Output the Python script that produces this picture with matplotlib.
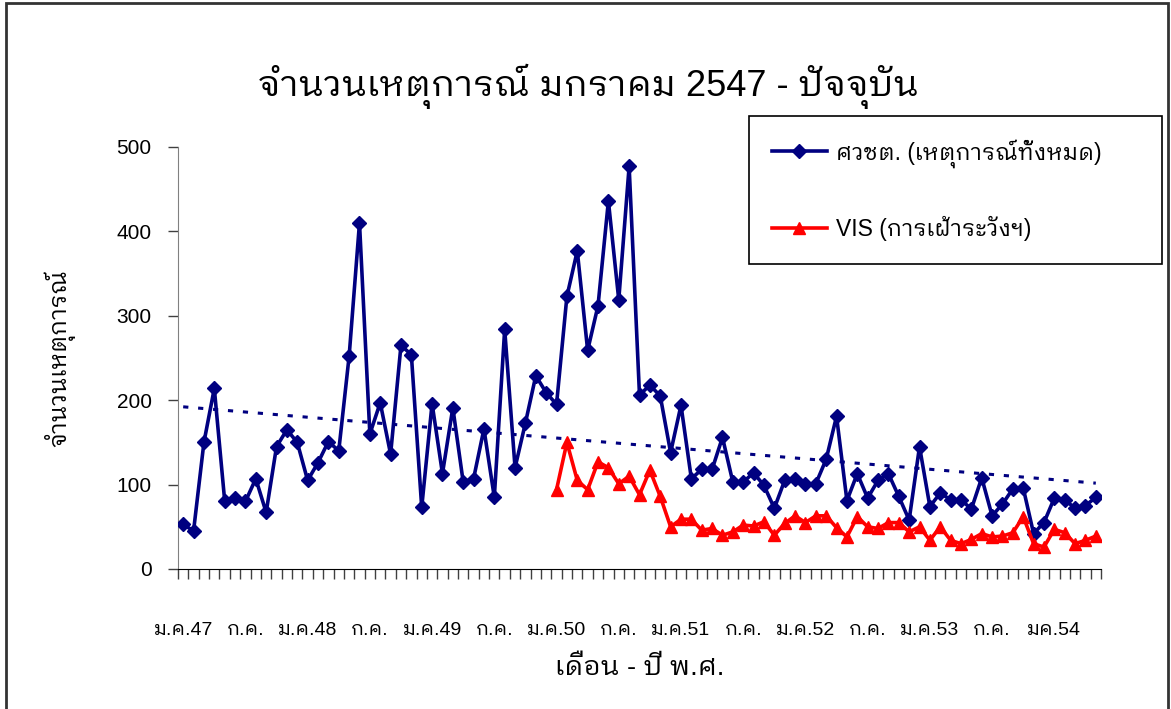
import numpy as np
import matplotlib
matplotlib.use("Agg")
import matplotlib.pyplot as plt
from matplotlib import font_manager, ft2font
from matplotlib.patches import Rectangle

# monthly counts, ม.ค.47 - พ.ค.54
total_events = [53, 45, 150, 214, 81, 84, 80, 107, 67, 145, 165, 150,
                105, 126, 151, 140, 252, 410, 160, 197, 136, 265, 254, 73,
                196, 113, 191, 103, 107, 166, 85, 284, 120, 173, 229, 209,
                195, 323, 377, 259, 312, 436, 319, 477, 206, 218, 205, 138,
                194, 107, 118, 118, 156, 103, 103, 114, 99, 72, 105, 107,
                101, 101, 130, 181, 81, 113, 84, 105, 113, 86, 58, 145,
                74, 90, 82, 82, 71, 108, 63, 77, 95, 96, 42, 55,
                84, 82, 72, 75, 85]
# VIS starts ม.ค.50
vis_events = [94, 150, 105, 94, 127, 120, 101, 110, 88, 117, 86, 50,
              59, 59, 46, 48, 40, 44, 52, 51, 56, 40, 54, 63,
              55, 63, 63, 49, 38, 62, 50, 48, 55, 55, 44, 50,
              34, 50, 34, 30, 35, 42, 38, 39, 43, 62, 30, 26,
              47, 43, 30, 34, 39]
tick_labels = ["ม.ค.47", "ก.ค.", "ม.ค.48", "ก.ค.", "ม.ค.49", "ก.ค.", "ม.ค.50",
               "ก.ค.", "ม.ค.51", "ก.ค.", "ม.ค.52", "ก.ค.", "ม.ค.53", "ก.ค.", "มค.54"]
label_step = 6
y_ticks = [0, 100, 200, 300, 400, 500]

series_names = ["ศวชต. (เหตุการณ์ทั้งหมด)", "VIS (การเฝ้าระวังฯ)"]
title = "จำนวนเหตุการณ์ มกราคม 2547 - ปัจจุบัน"


def find_thai_font():
    """หา font ที่มีตัวอักษรไทย"""
    found = []
    for f in font_manager.fontManager.ttflist:
        try:
            ft = ft2font.FT2Font(f.fname)
            if ft.get_char_index(0x0E01):
                found.append(f.name)
        except Exception:
            pass
    for key in ("Looped", "Thai", ""):
        for name in found:
            if key in name:
                return name
    return None


thai = find_thai_font()
plt.rcParams["font.family"] = ["Liberation Sans"] + ([thai] if thai else []) + ["DejaVu Sans"]

navy = "#000080"
red = "#FF0000"

x = np.arange(len(total_events))
x_vis = x[len(total_events) - len(vis_events):]
slope, icpt = np.polyfit(x, total_events, 1)  # linear trendline

fig = plt.figure(figsize=(11.71, 7.09), dpi=100)
ax = fig.add_axes([178 / 1171, 1 - 569 / 709, 923 / 1171, 422 / 709])

ax.plot(x, total_events, color=navy, lw=2.6, marker="D", ms=7,
        label=series_names[0], zorder=3)
ax.plot(x_vis, vis_events, color=red, lw=2.6, marker="^", ms=8,
        label=series_names[1], zorder=4)
ax.plot(x, slope * x + icpt, color=navy, lw=2.2, ls=(0, (1.7, 3.2)), zorder=2)

ax.set_xlim(-0.5, len(total_events) - 0.5)
ax.set_ylim(0, 500)
ax.set_yticks(y_ticks)
ax.set_xticks(x[::label_step], tick_labels)
ax.set_xticks(np.arange(-0.5, len(total_events), 1), minor=True)
ax.tick_params(axis="x", which="major", length=0, pad=38, labelsize=14)
ax.tick_params(axis="x", which="minor", length=7, width=1, color="#404040")
ax.tick_params(axis="y", length=7, width=1, color="#404040", pad=12, labelsize=15)

for s in ("top", "right"):
    ax.spines[s].set_visible(False)
ax.spines["left"].set_color("#808080")
ax.spines["bottom"].set_color("#000000")

ax.set_ylabel("จำนวนเหตุการณ์", fontsize=17, labelpad=30)
ax.set_xlabel("เดือน - ปี พ.ศ.", fontsize=19.5, labelpad=12)

fig.text(588 / 1171, 1 - 96 / 709, title, ha="center", va="baseline", fontsize=26)

leg = fig.legend(loc="upper left", bbox_to_anchor=(749 / 1171, 1 - 116 / 709 - 0.01, 413 / 1171, 0.01),
                 mode="expand", borderaxespad=0, fontsize=16.5, numpoints=1,
                 handlelength=2.4, handletextpad=0.4, labelspacing=2.1, borderpad=1.0,
                 fancybox=False, framealpha=1, edgecolor="#000000")
leg.get_frame().set_linewidth(1.2)

# กรอบรอบรูป
fig.patches.append(Rectangle((6 / 1171, -0.02), 1162 / 1171, 1 - 3 / 709 + 0.02,
                             transform=fig.transFigure, fill=False,
                             edgecolor="#333333", lw=2))

fig.savefig("out.png", dpi=100)
